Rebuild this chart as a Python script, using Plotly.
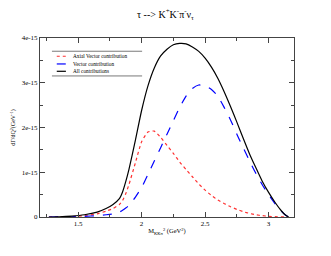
import plotly.graph_objects as go

# Q^2 grid (GeV^2)
q2 = [1.27, 1.35, 1.45, 1.55, 1.65, 1.72, 1.775, 1.825, 1.85, 1.875, 1.9, 1.95, 2.0, 2.05,
      2.1, 2.15, 2.2, 2.25, 2.3, 2.35, 2.4, 2.45, 2.5, 2.55, 2.6, 2.65, 2.7, 2.75, 2.8,
      2.85, 2.9, 2.95, 3.0, 3.05, 3.1, 3.13, 3.157]

# values in units of 1e-15 GeV^-1
axial = [0, 0.003, 0.01, 0.03, 0.07, 0.13, 0.19, 0.28, 0.37, 0.52, 0.72, 1.2, 1.68, 1.9,
         1.92, 1.78, 1.6, 1.42, 1.23, 1.06, 0.9, 0.74, 0.6, 0.48, 0.38, 0.3, 0.23, 0.17, 0.12,
         0.08, 0.05, 0.03, 0.015, 0.007, 0.002, 0.001, 0]
vector = [0, 0.001, 0.006, 0.015, 0.03, 0.05, 0.07, 0.11, 0.15, 0.2, 0.26, 0.44, 0.66, 0.95,
          1.25, 1.55, 1.85, 2.15, 2.45, 2.7, 2.87, 2.95, 2.93, 2.85, 2.7, 2.45, 2.17, 1.85, 1.55,
          1.25, 0.97, 0.72, 0.5, 0.3, 0.13, 0.05, 0]
total = [0, 0.005, 0.02, 0.05, 0.11, 0.19, 0.28, 0.41, 0.56, 0.79, 1.06, 1.7, 2.38, 2.93,
         3.33, 3.6, 3.75, 3.85, 3.88, 3.87, 3.8, 3.7, 3.55, 3.35, 3.1, 2.8, 2.47, 2.12, 1.76,
         1.41, 1.1, 0.8, 0.55, 0.33, 0.14, 0.05, 0]

scale = 1e-15
names = ["Axial Vector contribution", "Vector contribution", "All contributions"]
colors = ["#ff3030", "#0000ff", "#000000"]
dashes = ["dot", "dash", "solid"]
series = [axial, vector, total]

x_ticks = [1.5, 2, 2.5, 3]
x_ticktext = ["1.5", "2", "2.5", "3"]
y_ticks = [0, 1e-15, 2e-15, 3e-15, 4e-15]
y_ticktext = ["0", "1e-15", "2e-15", "3e-15", "4e-15"]

fig = go.Figure()
for name, vals, col, dsh in zip(names, series, colors, dashes):
    fig.add_trace(go.Scatter(
        x=q2, y=[v * scale for v in vals], mode="lines", name=name,
        line=dict(color=col, dash=dsh, width=1.2, shape="spline", smoothing=0.5),
        showlegend=False,
    ))

font = "Liberation Serif"

# hand-drawn legend (plotly's legend rows are too tall for this small figure)
leg_x0, leg_x1 = 0.047, 0.402
leg_top, leg_bot = 0.926, 0.788
leg_rows = [0.898, 0.855, 0.814]
sample_x0, sample_x1 = 0.066, 0.102
text_x = 0.122
shapes = [
    dict(type="line", xref="paper", yref="paper", x0=leg_x0, x1=leg_x1, y0=leg_top, y1=leg_top,
         line=dict(color="#555", width=0.8)),
    dict(type="line", xref="paper", yref="paper", x0=leg_x0, x1=leg_x1, y0=leg_bot, y1=leg_bot,
         line=dict(color="#555", width=0.8)),
]
annotations = []
for name, col, dsh, yy in zip(names, colors, dashes, leg_rows):
    shapes.append(dict(type="line", xref="paper", yref="paper", x0=sample_x0, x1=sample_x1,
                       y0=yy, y1=yy, line=dict(color=col, dash=dsh, width=1.2)))
    annotations.append(dict(text=name, xref="paper", yref="paper", x=text_x, y=yy,
                            xanchor="left", yanchor="middle", showarrow=False,
                            font=dict(family=font, size=5.3, color="black")))

fig.update_layout(
    width=331, height=256,
    margin=dict(l=38, r=37, t=38, b=39),
    paper_bgcolor="white", plot_bgcolor="white",
    font=dict(family=font, size=7, color="black"),
    title=dict(
        text="τ --> K<sup>+</sup>K<sup>-</sup>π<sup>-</sup>ν<sub>τ</sub>",
        x=0.5, xanchor="center", y=0.945, yanchor="middle",
        font=dict(family=font, size=10, color="black"),
    ),
    shapes=shapes,
    annotations=annotations,
    xaxis=dict(
        range=[1.2, 3.2], tickvals=x_ticks, ticktext=x_ticktext,
        ticks="inside", ticklen=5, tickcolor="#444", tickwidth=0.8,
        tickfont=dict(family=font, size=7),
        minor=dict(dtick=0.25, tick0=1.0, ticks="inside", ticklen=3, tickcolor="#444"),
        showline=True, linecolor="#444", linewidth=1, mirror="allticks",
        showgrid=False, zeroline=False,
        title=dict(text="M<sub>KKπ</sub><sup>2</sup> (GeV<sup>2</sup>)",
                   font=dict(family=font, size=6.5), standoff=1),
    ),
    yaxis=dict(
        range=[0, 4e-15], tickvals=y_ticks, ticktext=y_ticktext,
        ticks="inside", ticklen=5, tickcolor="#444", tickwidth=0.8,
        tickfont=dict(family=font, size=7),
        minor=dict(dtick=0.5e-15, tick0=0, ticks="inside", ticklen=3, tickcolor="#444"),
        showline=True, linecolor="#444", linewidth=1, mirror="allticks",
        showgrid=False, zeroline=False,
        title=dict(text="dΓ/dQ<sup>2</sup>(GeV<sup>-1</sup>)",
                   font=dict(family=font, size=6), standoff=5),
    ),
)

fig.write_html("out.html", post_script="document.body.style.margin='0';",
               config={"displayModeBar": False})
